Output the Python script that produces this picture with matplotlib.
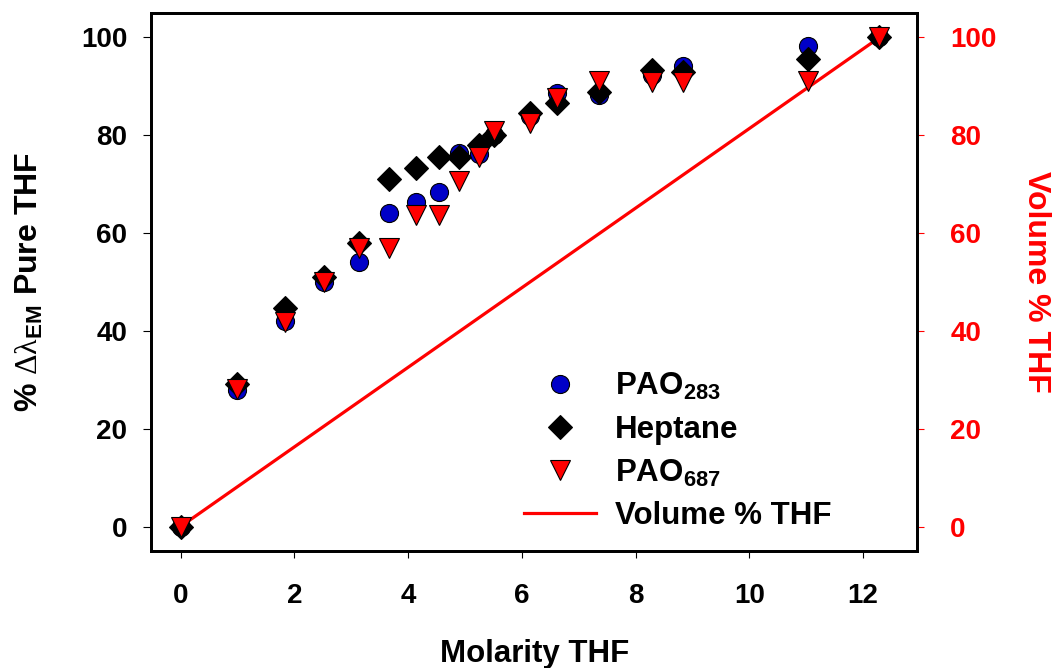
import matplotlib
matplotlib.use("Agg")
import matplotlib.pyplot as plt

plt.rcParams['font.family'] = ['Liberation Sans', 'DejaVu Sans']
plt.rcParams['font.weight'] = 'bold'
plt.rcParams['mathtext.fontset'] = 'custom'
plt.rcParams['mathtext.rm'] = 'Liberation Serif:weight=normal'
plt.rcParams['mathtext.bf'] = 'Liberation Sans:bold'
plt.rcParams['mathtext.it'] = 'Liberation Sans:italic'

# THF molarity for each mixture
molarity = [0, 0.99, 1.83, 2.53, 3.14, 3.67, 4.14, 4.54, 4.90, 5.24,
            5.51, 6.14, 6.62, 7.35, 8.29, 8.83, 11.04, 12.29]

# % shift of emission max relative to pure THF
pao283 = [0, 27.9, 42.0, 50.0, 54.1, 64.2, 66.4, 68.3, 76.3, 76.2,
          80.0, 84.0, 88.6, 88.3, 92.4, 94.1, 98.3, 100]
heptane = [0, 29.2, 44.6, 51.1, 57.9, 71.1, 73.3, 75.6, 75.6, 78.0,
           80.1, 84.5, 86.6, 88.9, 93.4, 93.0, 95.6, 100]
pao687 = [0, 28.2, 41.8, 50.1, 57.0, 56.9, 63.7, 63.8, 70.6, 75.6,
          80.8, 82.5, 87.6, 91.0, 90.9, 90.9, 91.0, 100]

# volume % THF line (end points)
vol_molarity = [0, 12.29]
vol_pct = [0, 100]

xticks = [0, 2, 4, 6, 8, 10, 12]
yticks = [0, 20, 40, 60, 80, 100]

fig = plt.figure(figsize=(10.55, 6.68), dpi=100)
ax = fig.add_axes([151/1055, 1 - 551/668, 766/1055, 538/668])
ax2 = ax.twinx()
ax.set_zorder(ax2.get_zorder() + 1)
ax.patch.set_visible(False)

ax.plot(molarity, pao283, 'o', ms=13, mfc='#0000c8', mec='black', mew=0.8, label=r'$\mathbf{PAO}_{\mathbf{283}}$')
ax.plot(molarity, heptane, 'D', ms=12, mfc='black', mec='black', mew=0.8, label='Heptane')
ax.plot(molarity, pao687, 'v', ms=14, mfc='#ff0000', mec='black', mew=0.8, label=r'$\mathbf{PAO}_{\mathbf{687}}$')
line, = ax2.plot(vol_molarity, vol_pct, '-', color='#ff0000', lw=2.3, label='Volume % THF')

for a in (ax, ax2):
    a.set_xlim(-0.52, 12.95)
    a.set_ylim(-5, 105)
    for s in a.spines.values():
        s.set_linewidth(2)
        s.set_color('black')

ax.set_xticks(xticks)
ax.set_yticks(yticks)
ax2.set_yticks(yticks)
ax.tick_params(axis='x', direction='out', length=5, width=0.8, pad=18, labelsize=20)
ax.tick_params(axis='y', direction='out', length=6, width=0.8, pad=11, labelsize=20)
ax2.tick_params(axis='y', direction='out', length=5, width=0.8, pad=19, labelsize=20,
                colors='#ff0000')

ax.set_xlabel('Molarity THF', fontsize=22.5, fontweight='bold', va='center')
ax.xaxis.set_label_coords(0.501, -0.192)
ax.set_ylabel('% ' + r'$\mathrm{\Delta\lambda}_{\mathbf{EM}}$' + ' Pure THF',
              fontsize=23, fontweight='bold', va='center')
ax.yaxis.set_label_coords(-0.159, 0.5)
ax2.set_ylabel('Volume % THF', fontsize=23, fontweight='bold', color='#ff0000',
               rotation=-90, va='center')
ax2.yaxis.set_label_coords(1.155, 0.5)

handles, labels = ax.get_legend_handles_labels()
handles.append(line)
labels.append(line.get_label())
ax.legend(handles, labels, loc='upper left', bbox_to_anchor=(0.487, 0.334),
          frameon=False, fontsize=22.5, handlelength=2.3, handletextpad=0.6,
          labelspacing=0.4, borderpad=0, borderaxespad=0)

fig.savefig('out.png', dpi=100)
